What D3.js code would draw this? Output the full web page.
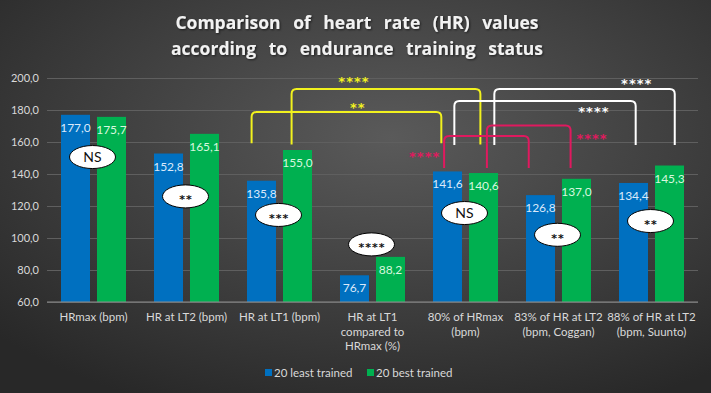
<!DOCTYPE html>
<html>
<head>
<meta charset="utf-8">
<script src="https://cdn.jsdelivr.net/npm/d3@7"></script>
<style>
  body { margin: 0; background: #333; }
  #chart { width: 711px; height: 393px; }
  text { font-family: Lato, "Open Sans", sans-serif; }
</style>
</head>
<body>
<div id="chart"></div>
<script>
var w = 711, h = 393

// data
var categories = [
  ["HRmax (bpm)"],
  ["HR at LT2 (bpm)"],
  ["HR at LT1 (bpm)"],
  ["HR at LT1", "compared to", "HRmax (%)"],
  ["80% of HRmax", "(bpm)"],
  ["83% of HR at LT2", "(bpm, Coggan)"],
  ["88% of HR at LT2", "(bpm, Suunto)"]
]
var seriesNames = ["20 least trained", "20 best trained"]
var leastTrained = [177.0, 152.8, 135.8, 76.7, 141.6, 126.8, 134.4]
var bestTrained = [175.7, 165.1, 155.0, 88.2, 140.6, 137.0, 145.3]
var yTicks = [60, 80, 100, 120, 140, 160, 180, 200]

// significance bubble between the two bars of each group (label, level in y units)
var bubbleLabels = ["NS", "**", "***", "****", "NS", "**", "**"]
var bubbleLevels = [150.6, 126, 114.4, 96, 115.6, 102, 110.6]

// brackets between groups: [cat, frac] legs, top level, leg bottom, label position
var brackets = [
  {color: "#f2f21e", a: [2, 0.20], b: [4, 0.24], top: 178.7, bottom: 159.2, label: "**", lx: [3, 0.33], ly: 183.8},
  {color: "#f2f21e", a: [2, 0.63], b: [4, 0.66], top: 193.2, bottom: 158.5, label: "****", lx: [3, 0.29], ly: 200.2},
  {color: "#ffffff", a: [4, 0.38], b: [6, 0.33], top: 185.6, bottom: 158.1, label: "****", lx: [5, 0.87], ly: 181.3},
  {color: "#ffffff", a: [4, 0.81], b: [6, 0.75], top: 193.2, bottom: 158.1, label: "****", lx: [6, 0.33], ly: 198.8},
  {color: "#e0195f", a: [4, 0.27], b: [5, 0.18], top: 163.8, bottom: 143.8, label: "****", lx: [4, 0.05], ly: 153.1},
  {color: "#e0195f", a: [4, 0.73], b: [5, 0.63], top: 170.3, bottom: 143.8, label: "****", lx: [5, 0.85], ly: 164.4}
]

var colours = ["#0070c0", "#00b050"]
var labelColours = ["#dbe9fa", "#d8f7df"]

var svg = d3.select("#chart")
  .append("svg")
  .attr("width", w)
  .attr("height", h)

// background
var defs = svg.append("defs")
var grad = defs.append("radialGradient")
  .attr("id", "bg")
  .attr("cx", "55%").attr("cy", "35%").attr("r", "75%")
grad.append("stop").attr("offset", "0%").attr("stop-color", "#5a5a5a")
grad.append("stop").attr("offset", "100%").attr("stop-color", "#282828")

svg.append("rect")
  .attr("width", w).attr("height", h)
  .attr("fill", "url(#bg)")

var shadow = defs.append("filter").attr("id", "shadow")
shadow.append("feDropShadow")
  .attr("dx", 1).attr("dy", 1).attr("stdDeviation", 1)
  .attr("flood-color", "#000").attr("flood-opacity", 0.6)

// title
var title = svg.append("text")
  .attr("x", 357)
  .attr("text-anchor", "middle")
  .style("font-family", "'Open Sans', sans-serif")
  .style("font-weight", "bold")
  .style("font-size", "17.5px")
  .style("word-spacing", "8px")
  .attr("fill", "#f2f2f2")
  .attr("filter", "url(#shadow)")
title.append("tspan").attr("x", 357).attr("y", 29).text("Comparison of heart rate (HR) values")
title.append("tspan").attr("x", 357).attr("y", 55).text("according to endurance training status")

// scales
var x = d3.scaleBand()
  .domain(d3.range(categories.length))
  .range([47, 698])

var xSub = d3.scaleBand()
  .domain([0, 1])
  .range([14, 79])
  .paddingInner(0.194)

var y = d3.scaleLinear()
  .domain([60, 200])
  .range([302, 78])

function xAt(p) { return x(p[0]) + p[1] * x.bandwidth() }

// grid
var yAxis = d3.axisLeft(y)
  .tickValues(yTicks)
  .tickSize(-(698 - 47))
  .tickPadding(8)
  .tickFormat(function(d) { return d3.format(".1f")(d).replace(".", ",") })

var gy = svg.append("g")
  .attr("transform", "translate(47,0)")
  .call(yAxis)
gy.select(".domain").remove()
gy.selectAll(".tick line")
  .attr("stroke", "#5f5f5f")
  .attr("stroke-width", 1)
gy.selectAll(".tick text")
  .attr("fill", "#d9d9d9")
  .style("font-size", "11px")
  .style("font-family", "Lato, sans-serif")

// bars
var groups = svg.append("g").selectAll("g")
  .data(categories)
  .enter()
  .append("g")
  .attr("transform", function(d, i) { return "translate(" + x(i) + ",0)" })

var series = [leastTrained, bestTrained]

groups.each(function(c, i) {
  var g = d3.select(this)
  series.forEach(function(s, k) {
    g.append("rect")
      .attr("x", xSub(k))
      .attr("y", y(s[i]))
      .attr("width", xSub.bandwidth())
      .attr("height", y(60) - y(s[i]))
      .attr("fill", colours[k])
    g.append("text")
      .attr("x", xSub(k) + xSub.bandwidth() / 2)
      .attr("y", y(s[i]) + 17)
      .attr("text-anchor", "middle")
      .attr("fill", labelColours[k])
      .style("font-size", "12px")
      .text(d3.format(".1f")(s[i]).replace(".", ","))
  })
})

// x axis line
svg.append("line")
  .attr("x1", 47).attr("x2", 698)
  .attr("y1", y(60)).attr("y2", y(60))
  .attr("stroke", "#8c8c8c")
  .attr("stroke-width", 1)

// category labels
groups.append("text")
  .attr("text-anchor", "middle")
  .attr("fill", "#d9d9d9")
  .style("font-size", "11.5px")
  .selectAll("tspan")
  .data(function(d) { return d })
  .enter()
  .append("tspan")
  .attr("x", x.bandwidth() / 2)
  .attr("y", function(d, j) { return 321 + j * 14.5 })
  .text(function(d) { return d })

// brackets
var br = svg.append("g").selectAll("g")
  .data(brackets)
  .enter()
  .append("g")

br.append("path")
  .attr("d", function(d) {
    var x1 = xAt(d.a), x2 = xAt(d.b), yt = y(d.top), yb = y(d.bottom), r = 5
    return "M" + x1 + "," + yb + "L" + x1 + "," + (yt + r) +
      "Q" + x1 + "," + yt + " " + (x1 + r) + "," + yt +
      "L" + (x2 - r) + "," + yt +
      "Q" + x2 + "," + yt + " " + x2 + "," + (yt + r) +
      "L" + x2 + "," + yb
  })
  .attr("fill", "none")
  .attr("stroke", function(d) { return d.color })
  .attr("stroke-width", 2)

br.append("text")
  .attr("x", function(d) { return xAt(d.lx) + 1 })
  .attr("y", function(d) { return y(d.ly) + 8 })
  .attr("text-anchor", "middle")
  .attr("fill", function(d) { return d.color })
  .style("font-family", "'DejaVu Sans', sans-serif")
  .style("font-size", "13px")
  .style("font-weight", "bold")
  .style("letter-spacing", "1px")
  .text(function(d) { return d.label })

// significance bubbles
var bub = svg.append("g").selectAll("g")
  .data(bubbleLabels)
  .enter()
  .append("g")
  .attr("transform", function(d, i) { return "translate(" + (x(i) + x.bandwidth() / 2 - 1) + "," + y(bubbleLevels[i]) + ")" })

bub.append("ellipse")
  .attr("rx", 23)
  .attr("ry", 11.5)
  .attr("fill", "#ffffff")
  .attr("stroke", "#000")
  .attr("stroke-width", 1)

bub.append("text")
  .attr("text-anchor", "middle")
  .attr("x", function(d) { return d == "NS" ? 0 : 0.5 })
  .attr("y", function(d) { return d == "NS" ? 5 : 7 })
  .attr("fill", "#111")
  .style("font-family", function(d) { return d == "NS" ? "Lato, sans-serif" : "'DejaVu Sans', sans-serif" })
  .style("font-size", function(d) { return d == "NS" ? "14px" : "11px" })
  .style("font-weight", function(d) { return d == "NS" ? "normal" : "bold" })
  .style("letter-spacing", function(d) { return d == "NS" ? "0px" : "1px" })
  .text(function(d) { return d })

// legend
var legend = svg.append("g").selectAll("g")
  .data(seriesNames)
  .enter()
  .append("g")
  .attr("transform", function(d, i) { return "translate(" + (265 + i * 102) + ",373)" })

legend.append("rect")
  .attr("x", 0).attr("y", -4)
  .attr("width", 7).attr("height", 7)
  .attr("fill", function(d, i) { return colours[i] })

legend.append("text")
  .attr("x", 9)
  .attr("y", 4)
  .attr("fill", "#d9d9d9")
  .style("font-size", "11.5px")
  .text(function(d) { return d })
</script>
</body>
</html>
